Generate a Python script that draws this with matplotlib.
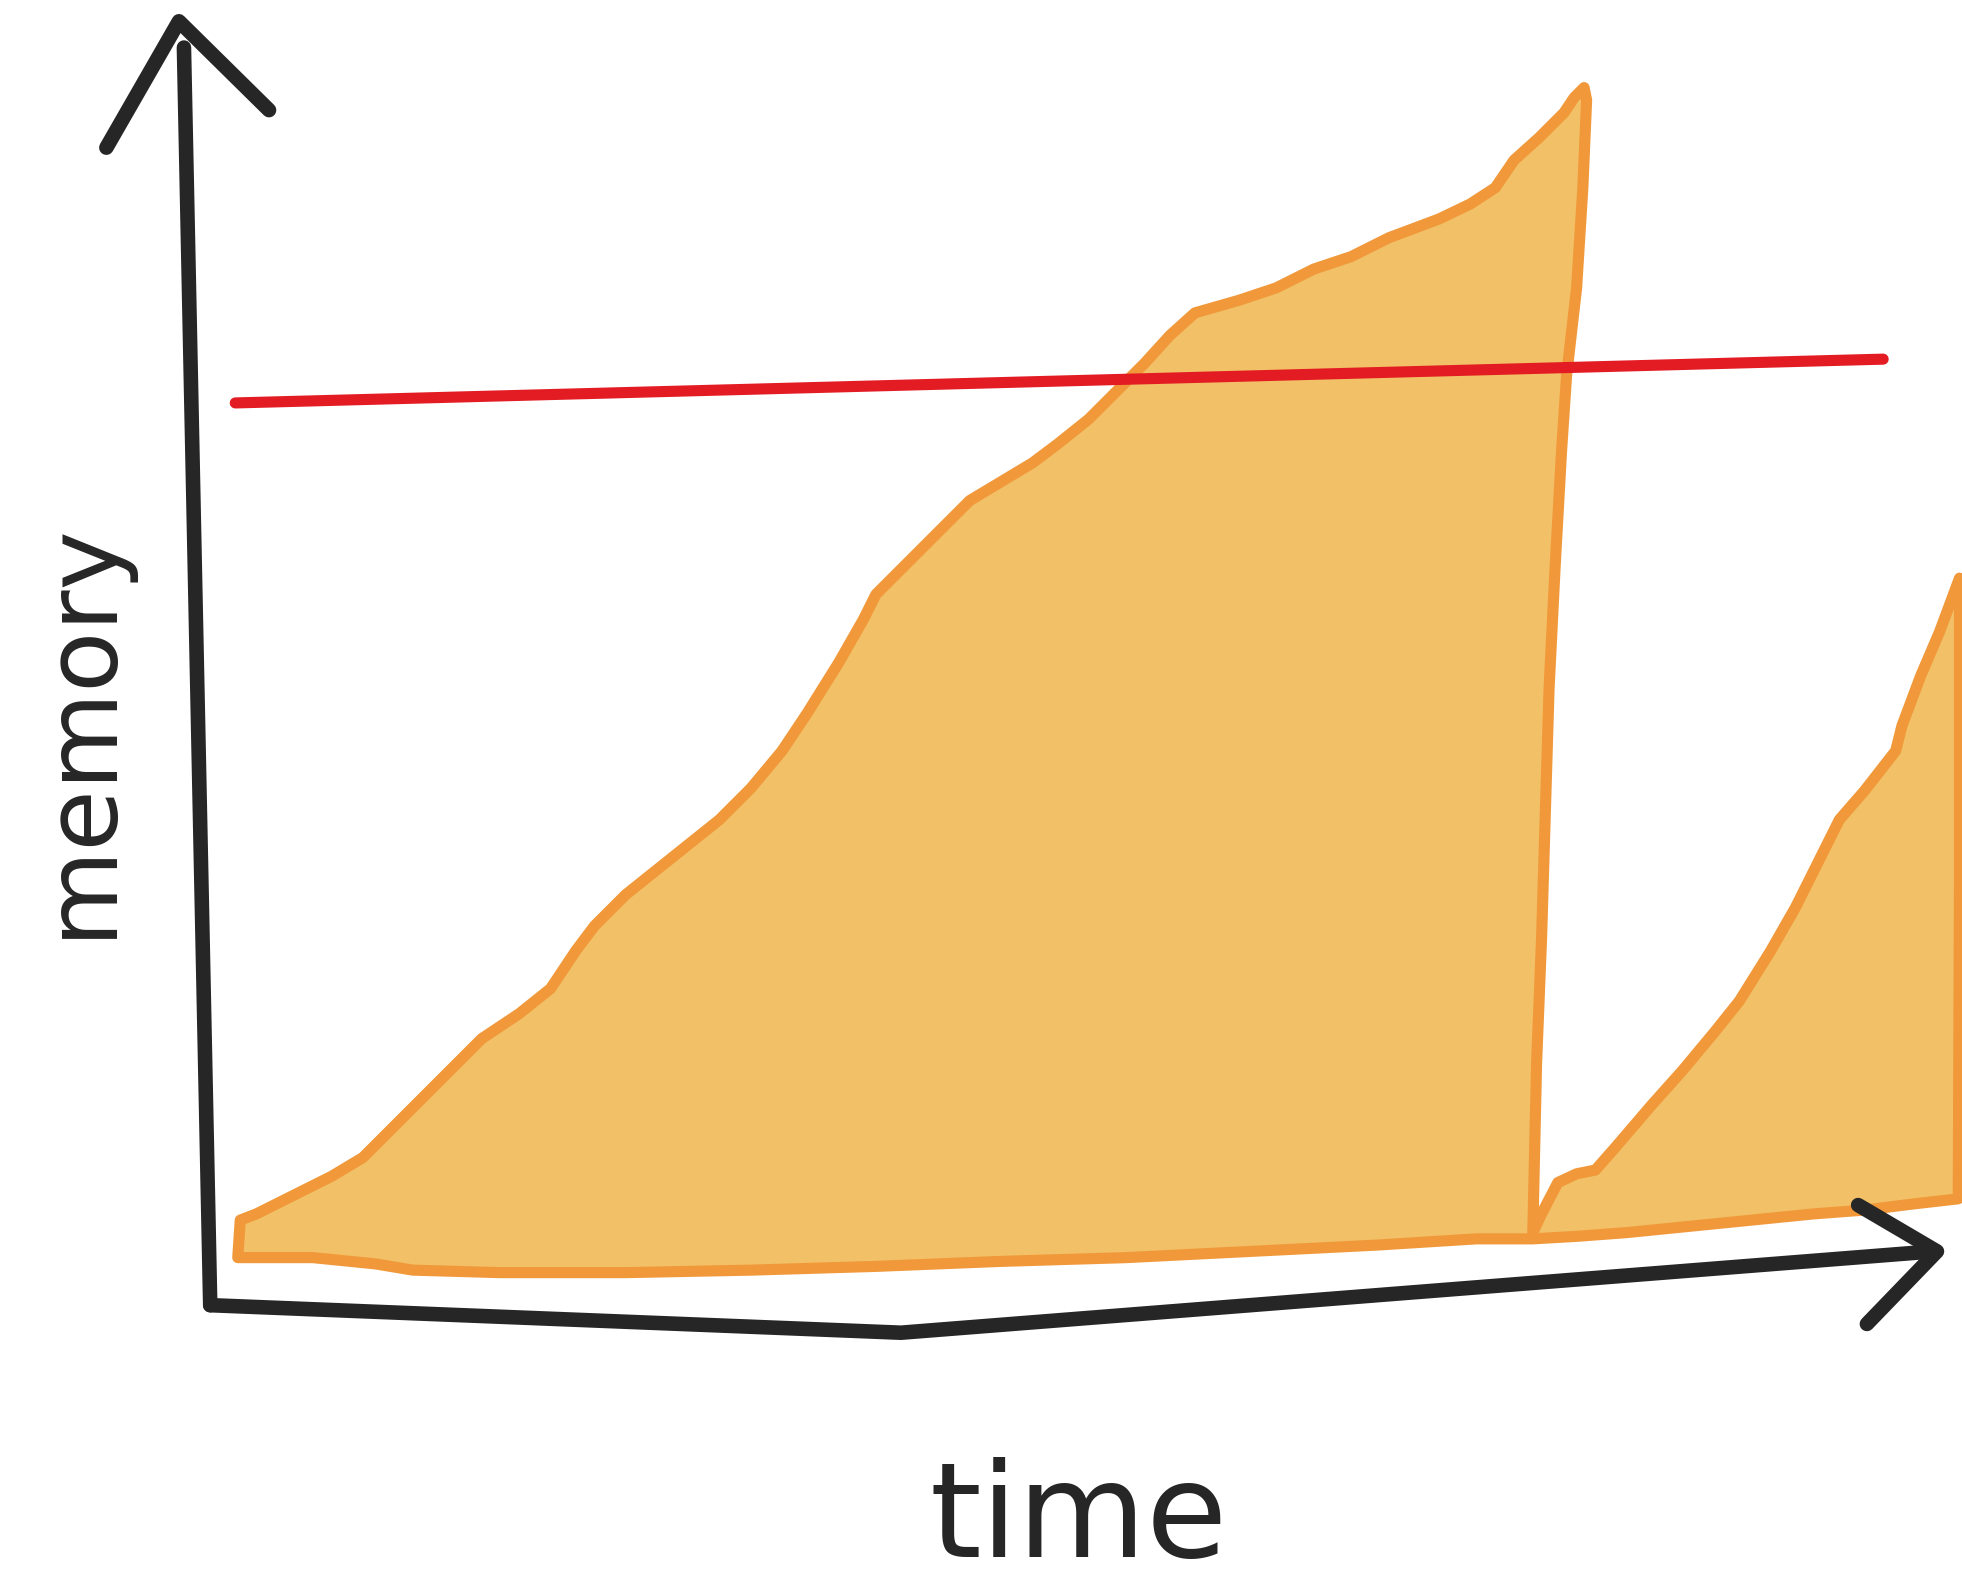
import matplotlib.pyplot as plt

W, H = 1568, 1273

# memory usage: GC sawtooth (top edge left->right, then bottom edge back)
usage_t = [190, 192, 205, 235, 265, 290, 310, 340, 370, 385, 415, 440, 460, 475, 500,
           525, 550, 575, 600, 625, 645, 670, 690, 700, 720, 745, 775, 800, 825, 845,
           870, 890, 915, 935, 955, 990, 1020, 1050, 1080, 1110, 1150, 1175, 1195, 1210,
           1230, 1250, 1258, 1266, 1268, 1265, 1260, 1252, 1248, 1243, 1238, 1235, 1232,
           1228, 1225,
           1232, 1245, 1260, 1275, 1290, 1320, 1345, 1370, 1390, 1415, 1435, 1455, 1470,
           1490, 1515, 1520, 1535, 1550, 1566, 1566, 1565,
           1530, 1490, 1450, 1400, 1350, 1300, 1260, 1225, 1180, 1100, 1000, 900, 800,
           700, 600, 500, 400, 330, 300, 250, 190]
usage_m = [1005, 975, 970, 955, 940, 925, 905, 875, 845, 830, 810, 790, 760, 740, 715,
           695, 675, 655, 630, 600, 570, 530, 495, 475, 455, 430, 400, 385, 370, 355,
           335, 315, 290, 268, 250, 240, 230, 215, 205, 190, 175, 163, 150, 128,
           110, 90, 78, 70, 80, 150, 230, 300, 360, 450, 550, 650, 750,
           850, 985,
           970, 945, 938, 935, 918, 883, 855, 825, 800, 760, 725, 685, 655,
           632, 600, 580, 540, 505, 462, 700, 958,
           962, 967, 970, 975, 980, 985, 988, 990, 990, 995, 1000, 1005, 1008,
           1012, 1015, 1017, 1017, 1015, 1010, 1005, 1005]

# memory limit
limit_t = [188, 1505]
limit_m = [322, 287]

# hand-drawn axes
yaxis_t = [147, 168]
yaxis_m = [38, 1043]
yhead_t = [85, 143, 215]
yhead_m = [118, 17, 88]
xaxis_t = [168, 720, 1545]
xaxis_m = [1043, 1065, 1000]
xhead_t = [1485, 1548, 1492]
xhead_m = [963, 1000, 1058]

fig = plt.figure(figsize=(19.62, 15.93), dpi=100)
ax = fig.add_axes([0, 0, 1, 1])
ax.set_xlim(0, W)
ax.set_ylim(H, 0)
ax.axis('off')

ax.fill(usage_t, usage_m, facecolor='#F2C066', edgecolor='#F0983A', linewidth=8,
        joinstyle='round', zorder=2)
ax.plot(limit_t, limit_m, color='#E31B23', linewidth=8, solid_capstyle='round', zorder=3)

ink = '#262626'
for t, m in [(yaxis_t, yaxis_m), (yhead_t, yhead_m), (xaxis_t, xaxis_m), (xhead_t, xhead_m)]:
    ax.plot(t, m, color=ink, linewidth=10.5, solid_capstyle='round',
            solid_joinstyle='round', zorder=4)

ax.text(65, 583, 'memory', rotation=90, ha='center', va='center', fontsize=72,
        color=ink, family='DejaVu Sans')
ax.text(862, 1215, 'time', ha='center', va='center', fontsize=95, color=ink,
        family='DejaVu Sans')

plt.savefig('out.png', dpi=100)
